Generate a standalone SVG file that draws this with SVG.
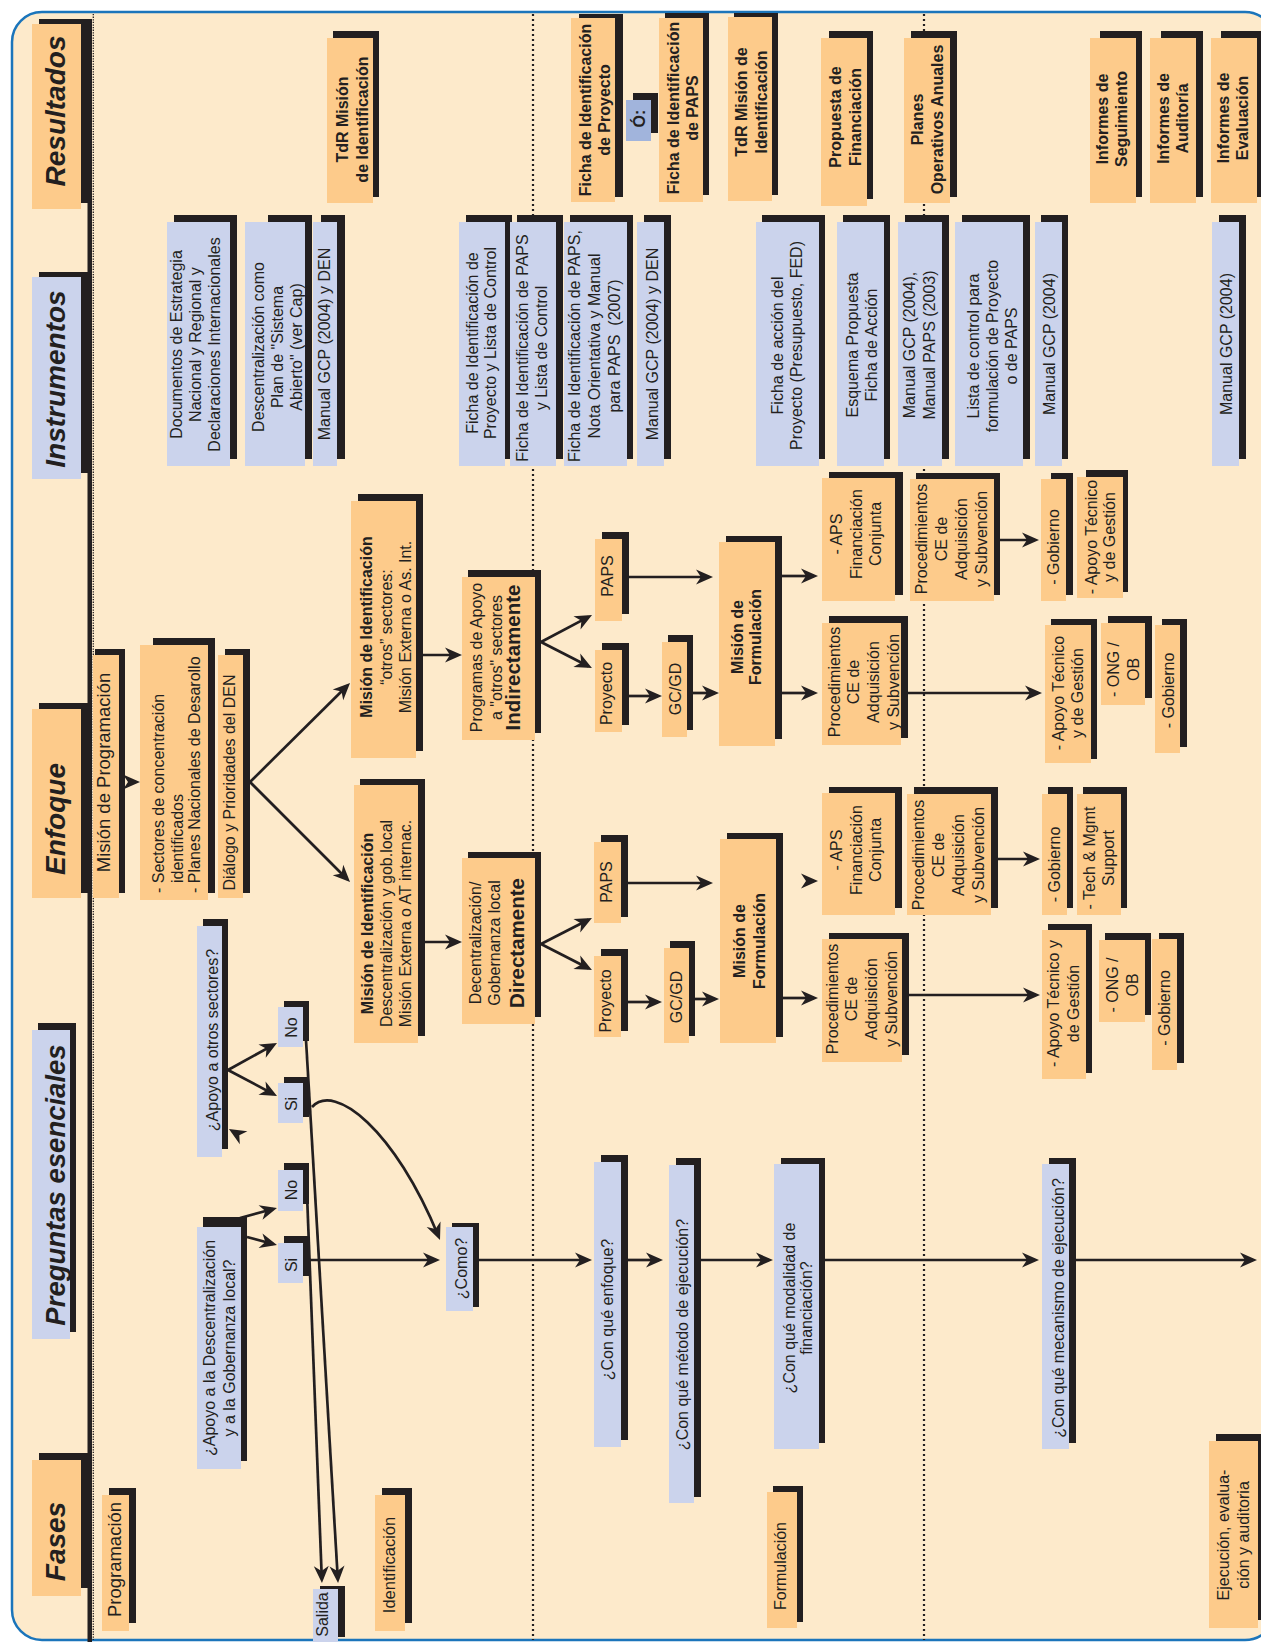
<svg xmlns="http://www.w3.org/2000/svg" width="1261" height="1642" viewBox="0 0 1261 1642">
<defs>
<style>
.sh{fill:#231F20}
.o{fill:#FDCB8B}
.b{fill:#CBD3EC}
.bd{fill:#A1B4DC}
text{font-family:"Liberation Sans",Arial,Helvetica,sans-serif;fill:#231F20}
.t{font-size:16px;text-anchor:middle}
.tl{font-size:16px;text-anchor:start}
.tb{font-size:16px;font-weight:bold;text-anchor:middle}
.hd{font-size:28px;font-weight:bold;font-style:italic;text-anchor:middle}
.bold{font-weight:bold}
.big{font-size:20.5px;font-weight:bold}
.c{fill:none;stroke:#231F20;stroke-width:2.7;marker-end:url(#ah)}
.div{stroke:#231F20;stroke-width:2.2;stroke-dasharray:2 3}
</style>
<marker id="ah" markerUnits="userSpaceOnUse" viewBox="-14 -8 19 16" refX="0" refY="0" markerWidth="19" markerHeight="16" orient="auto">
<path d="M4,0 L-13,-7.5 L-8,0 L-13,7.5 Z" fill="#231F20"/>
</marker>
</defs>

<!-- sheet -->
<rect x="12" y="12" width="1263" height="1628" rx="30" fill="#FDEACB" stroke="#1B75BB" stroke-width="2.5"/>

<!-- phase dividers and row rule -->
<g id="dividers">
<line class="div" x1="533" y1="14" x2="533" y2="1640"/>
<line class="div" x1="924" y1="14" x2="924" y2="1640"/>
<line x1="93.3" y1="14" x2="93.3" y2="1640" stroke="#231F20" stroke-width="1.3" stroke-dasharray="1.3 1.3"/>
<rect x="87.5" y="19" width="4.5" height="1623" fill="#231F20"/>
</g>

<!-- row headers -->
<g id="h-resultados"><rect class="sh" x="39" y="19" width="49" height="184"/><rect class="o" x="32" y="24" width="49" height="185"/><text class="hd" transform="translate(65,111) rotate(-90)">Resultados</text></g>
<g id="h-instrumentos"><rect class="sh" x="39" y="272" width="49" height="201"/><rect class="b" x="32" y="277" width="49" height="202"/><text class="hd" transform="translate(65,379) rotate(-90)">Instrumentos</text></g>
<g id="h-enfoque"><rect class="sh" x="39" y="703" width="49" height="190"/><rect class="o" x="32" y="709" width="49" height="189"/><text class="hd" transform="translate(65,819) rotate(-90)">Enfoque</text></g>
<g id="h-preguntas"><rect class="sh" x="38" y="1023" width="38" height="309"/><rect class="b" x="32" y="1030" width="38" height="309"/><text class="hd" style="font-size:27.5px" transform="translate(65,1185) rotate(-90)">Preguntas esenciales</text></g>
<g id="h-fases"><rect class="sh" x="39" y="1453" width="49" height="135"/><rect class="o" x="32" y="1460" width="49" height="136"/><text class="hd" transform="translate(65,1541.5) rotate(-90)">Fases</text></g>

<!-- Resultados -->
<g id="r-tdr1"><rect class="sh" x="333" y="31" width="46" height="166"/><rect class="o" x="327" y="38" width="46" height="165"/><text class="tb" transform="translate(348,119.5) rotate(-90)"><tspan x="0">TdR Misión</tspan><tspan x="0" dy="20">de Identificación</tspan></text></g>
<g id="r-ficha-proyecto"><rect class="sh" x="579" y="14" width="44" height="183"/><rect class="o" x="571" y="18" width="44" height="184"/><text class="tb" transform="translate(591,110) rotate(-90)"><tspan x="0">Ficha de Identificación</tspan><tspan x="0" dy="18.5">de Proyecto</tspan></text></g>
<g id="r-o"><rect class="sh" x="633" y="93" width="25" height="40"/><rect class="bd" x="626" y="100" width="25" height="41"/><text class="tb" transform="translate(645,118.5) rotate(-90)">Ó:</text></g>
<g id="r-ficha-paps"><rect class="sh" x="665" y="13" width="44" height="182"/><rect class="o" x="659" y="18" width="44" height="184"/><text class="tb" transform="translate(679,108) rotate(-90)"><tspan x="0">Ficha de Identificación</tspan><tspan x="0" dy="19.3">de PAPS</tspan></text></g>
<g id="r-tdr2"><rect class="sh" x="734" y="13" width="44" height="182"/><rect class="o" x="728" y="17" width="44" height="184"/><text class="tb" transform="translate(746.5,102) rotate(-90)"><tspan x="0">TdR Misión de</tspan><tspan x="0" dy="20">Identificación</tspan></text></g>
<g id="r-propuesta"><rect class="sh" x="829" y="31" width="44" height="168"/><rect class="o" x="821" y="38" width="46" height="168"/><text class="tb" transform="translate(841,117) rotate(-90)"><tspan x="0">Propuesta de</tspan><tspan x="0" dy="19.5">Financiación</tspan></text></g>
<g id="r-planes"><rect class="sh" x="911" y="31" width="46" height="166"/><rect class="o" x="904" y="38" width="46" height="165"/><text class="tb" transform="translate(923,119.5) rotate(-90)"><tspan x="0">Planes</tspan><tspan x="0" dy="20">Operativos Anuales</tspan></text></g>
<g id="r-seguimiento"><rect class="sh" x="1100" y="31" width="42" height="166"/><rect class="o" x="1090" y="38" width="46" height="165"/><text class="tb" transform="translate(1108,119) rotate(-90)"><tspan x="0">Informes de</tspan><tspan x="0" dy="18.5">Seguimiento</tspan></text></g>
<g id="r-auditoria"><rect class="sh" x="1161" y="31" width="42" height="166"/><rect class="o" x="1150" y="38" width="46" height="165"/><text class="tb" transform="translate(1169,118.5) rotate(-90)"><tspan x="0">Informes de</tspan><tspan x="0" dy="19">Auditoría</tspan></text></g>
<g id="r-evaluacion"><rect class="sh" x="1221" y="31" width="42" height="166"/><rect class="o" x="1211" y="38" width="46" height="165"/><text class="tb" transform="translate(1229,118) rotate(-90)"><tspan x="0">Informes de</tspan><tspan x="0" dy="19">Evaluación</tspan></text></g>

<!-- Instrumentos -->
<g id="i-documentos"><rect class="sh" x="174" y="215" width="63" height="244"/><rect class="b" x="167" y="222" width="63" height="244"/><text class="t" transform="translate(181.5,344.5) rotate(-90)"><tspan x="0">Documentos de Estrategia</tspan><tspan x="0" dy="19.3">Nacional y Regional y</tspan><tspan x="0" dy="19.3">Declaraciones Internacionales</tspan></text></g>
<g id="i-descentralizacion"><rect class="sh" x="268" y="215" width="44" height="244"/><rect class="b" x="245" y="222" width="60" height="244"/><text class="t" transform="translate(263.5,347) rotate(-90)"><tspan x="0">Descentralización como</tspan><tspan x="0" dy="19">Plan de "Sistema</tspan><tspan x="0" dy="19">Abierto" (ver Cap)</tspan></text></g>
<g id="i-manual1"><rect class="sh" x="321" y="215" width="24" height="244"/><rect class="b" x="313" y="222" width="24" height="244"/><text class="t" transform="translate(330,344) rotate(-90)">Manual GCP (2004) y DEN</text></g>
<g id="i-ficha-proyecto"><rect class="sh" x="466" y="215" width="46" height="244"/><rect class="b" x="459" y="222" width="46" height="244"/><text class="t" transform="translate(478,343) rotate(-90)"><tspan x="0">Ficha de Identificación de</tspan><tspan x="0" dy="18">Proyecto y Lista de Control</tspan></text></g>
<g id="i-ficha-paps"><rect class="sh" x="517" y="215" width="46" height="244"/><rect class="b" x="510" y="222" width="46" height="244"/><text class="t" transform="translate(528,348) rotate(-90)"><tspan x="0">Ficha de Identificación de PAPS</tspan><tspan x="0" dy="18.5">y Lista de Control</tspan></text></g>
<g id="i-ficha-nota"><rect class="sh" x="570" y="215" width="63" height="244"/><rect class="b" x="564" y="222" width="63" height="244"/><text class="t" transform="translate(580,346) rotate(-90)"><tspan x="0">Ficha de Identificación de PAPS,</tspan><tspan x="0" dy="20">Nota Orientativa y Manual</tspan><tspan x="0" dy="20">para PAPS&#160; (2007)</tspan></text></g>
<g id="i-manual2"><rect class="sh" x="644" y="215" width="27" height="244"/><rect class="b" x="637" y="222" width="27" height="244"/><text class="t" transform="translate(658,344) rotate(-90)">Manual GCP (2004) y DEN</text></g>
<g id="i-ficha-accion"><rect class="sh" x="762" y="215" width="63" height="244"/><rect class="b" x="756" y="222" width="63" height="244"/><text class="t" transform="translate(783,345.5) rotate(-90)"><tspan x="0">Ficha de acción del</tspan><tspan x="0" dy="18.5">Proyecto (Presupuesto, FED)</tspan></text></g>
<g id="i-esquema"><rect class="sh" x="843" y="215" width="47" height="244"/><rect class="b" x="837" y="222" width="47" height="244"/><text class="t" transform="translate(858,345) rotate(-90)"><tspan x="0">Esquema Propuesta</tspan><tspan x="0" dy="18.5">Ficha de Acción</tspan></text></g>
<g id="i-manual3"><rect class="sh" x="905" y="215" width="44" height="244"/><rect class="b" x="898" y="222" width="44" height="244"/><text class="t" transform="translate(915,345) rotate(-90)"><tspan x="0">Manual GCP (2004),</tspan><tspan x="0" dy="20">Manual PAPS (2003)</tspan></text></g>
<g id="i-lista"><rect class="sh" x="962" y="215" width="68" height="244"/><rect class="b" x="955" y="222" width="68" height="244"/><text class="t" transform="translate(978.5,346) rotate(-90)"><tspan x="0">Lista de control para</tspan><tspan x="0" dy="19">formulación de Proyecto</tspan><tspan x="0" dy="19">o de PAPS</tspan></text></g>
<g id="i-manual4"><rect class="sh" x="1041" y="215" width="27" height="244"/><rect class="b" x="1035" y="222" width="27" height="244"/><text class="t" transform="translate(1055,344) rotate(-90)">Manual GCP (2004)</text></g>
<g id="i-manual5"><rect class="sh" x="1219" y="215" width="27" height="244"/><rect class="b" x="1212" y="222" width="27" height="244"/><text class="t" transform="translate(1231.5,344) rotate(-90)">Manual GCP (2004)</text></g>

<!-- Enfoque -->
<g id="e-programacion"><rect class="sh" x="95" y="649" width="30" height="244"/><rect class="o" x="93" y="655" width="26" height="243"/><text class="t" style="font-size:18.5px" transform="translate(110,772.5) rotate(-90)">Misión de Programación</text></g>
<g id="e-sectores"><rect class="sh" x="153" y="638" width="62" height="255"/><rect class="o" x="140" y="645" width="68" height="255"/><text class="tl" transform="translate(163.5,893) rotate(-90)"><tspan x="0" y="0">- Sectores de concentración</tspan><tspan x="10" y="19.5">identificados</tspan><tspan x="0" y="36.5">- Planes Nacionales de Desarollo</tspan></text></g>
<g id="e-dialogo"><rect class="sh" x="225" y="649" width="25" height="244"/><rect class="o" x="218" y="655" width="25" height="243"/><text class="t" transform="translate(235,782.5) rotate(-90)">Diálogo y Prioridades del DEN</text></g>
<g id="e-mision-otros"><rect class="sh" x="358" y="494" width="65" height="257"/><rect class="o" x="351" y="501" width="65" height="257"/><text class="t" transform="translate(372,627) rotate(-90)"><tspan x="0" class="bold">Misión de Identificación</tspan><tspan x="0" dy="19.5">“otros” sectores:</tspan><tspan x="0" dy="19.5">Misión Externa o As. Int.</tspan></text></g>
<g id="e-mision-desc"><rect class="sh" x="360" y="779" width="65" height="257"/><rect class="o" x="354" y="785" width="64" height="258"/><text class="t" transform="translate(373,923.5) rotate(-90)"><tspan x="0" class="bold">Misión de Identificación</tspan><tspan x="0" dy="18.5">Descentralización y gob.local</tspan><tspan x="0" dy="19.5">Misión Externa o AT internac.</tspan></text></g>
<g id="e-programas"><rect class="sh" x="468" y="570" width="73" height="163"/><rect class="o" x="462" y="577" width="73" height="163"/><text class="t" transform="translate(481.5,657.5) rotate(-90)"><tspan x="0">Programas de Apoyo</tspan><tspan x="0" dy="20">a "otros" sectores</tspan><tspan x="0" dy="18.5" class="big">Indirectamente</tspan></text></g>
<g id="e-decentralizacion"><rect class="sh" x="468" y="852" width="73" height="165"/><rect class="o" x="462" y="858" width="73" height="166"/><text class="t" transform="translate(480.5,943) rotate(-90)"><tspan x="0">Decentralización/</tspan><tspan x="0" dy="19.5">Gobernanza local</tspan><tspan x="0" dy="24" class="big">Directamente</tspan></text></g>
<g id="e-paps1"><rect class="sh" x="602" y="532" width="27" height="82"/><rect class="o" x="595" y="539" width="27" height="82"/><text class="t" transform="translate(612.5,576) rotate(-90)">PAPS</text></g>
<g id="e-proyecto1"><rect class="sh" x="602" y="643" width="27" height="82"/><rect class="o" x="595" y="650" width="27" height="82"/><text class="t" transform="translate(611.5,693.5) rotate(-90)">Proyecto</text></g>
<g id="e-gcgd1"><rect class="sh" x="668" y="635" width="25" height="95"/><rect class="o" x="662" y="642" width="25" height="95"/><text class="t" transform="translate(681,689) rotate(-90)">GC/GD</text></g>
<g id="e-formulacion1"><rect class="sh" x="726" y="536" width="56" height="203"/><rect class="o" x="719" y="542" width="56" height="204"/><text class="tb" transform="translate(742.5,637) rotate(-90)"><tspan x="0">Misión de</tspan><tspan x="0" dy="18.5">Formulación</tspan></text></g>
<g id="e-aps1"><rect class="sh" x="829" y="472" width="74" height="123"/><rect class="o" x="822" y="478" width="73" height="123"/><text class="t" transform="translate(842,534) rotate(-90)"><tspan x="0">- APS</tspan><tspan x="0" dy="19.5">Financiación</tspan><tspan x="0" dy="19.5">Conjunta</tspan></text></g>
<g id="e-proc1"><rect class="sh" x="916" y="473" width="84" height="122"/><rect class="o" x="910" y="479" width="84" height="122"/><text class="t" transform="translate(926.5,539) rotate(-90)"><tspan x="0">Procedimientos</tspan><tspan x="0" dy="20">CE de</tspan><tspan x="0" dy="20">Adquisición</tspan><tspan x="0" dy="20">y Subvención</tspan></text></g>
<g id="e-gob1"><rect class="sh" x="1051" y="473" width="22" height="122"/><rect class="o" x="1041" y="479" width="25" height="122"/><text class="t" transform="translate(1058.5,547) rotate(-90)">- Gobierno</text></g>
<g id="e-apoyo1"><rect class="sh" x="1086" y="470" width="42" height="122"/><rect class="o" x="1077" y="477" width="46" height="121"/><text class="t" transform="translate(1096.5,537) rotate(-90)"><tspan x="0">- Apoyo Técnico</tspan><tspan x="0" dy="18.5">y de Gestión</tspan></text></g>
<g id="e-proc2"><rect class="sh" x="829" y="616" width="79" height="122"/><rect class="o" x="822" y="623" width="79" height="122"/><text class="t" transform="translate(839.5,682) rotate(-90)"><tspan x="0">Procedimientos</tspan><tspan x="0" dy="19.7">CE de</tspan><tspan x="0" dy="19.7">Adquisición</tspan><tspan x="0" dy="19.7">y Subvención</tspan></text></g>
<g id="e-apoyo2"><rect class="sh" x="1051" y="619" width="46" height="140"/><rect class="o" x="1045" y="625" width="46" height="138"/><text class="t" transform="translate(1063.5,693) rotate(-90)"><tspan x="0">- Apoyo Técnico</tspan><tspan x="0" dy="19">y de Gestión</tspan></text></g>
<g id="e-ong1"><rect class="sh" x="1108" y="616" width="44" height="82"/><rect class="o" x="1101" y="623" width="44" height="82"/><text class="t" transform="translate(1118.5,669.5) rotate(-90)"><tspan x="0">- ONG /</tspan><tspan x="0" dy="20">OB</tspan></text></g>
<g id="e-gob2"><rect class="sh" x="1162" y="619" width="25" height="128"/><rect class="o" x="1155" y="625" width="25" height="128"/><text class="t" transform="translate(1173.5,690.5) rotate(-90)">- Gobierno</text></g>
<g id="e-paps2"><rect class="sh" x="601" y="835" width="27" height="82"/><rect class="o" x="594" y="842" width="27" height="81"/><text class="t" transform="translate(612,882) rotate(-90)">PAPS</text></g>
<g id="e-proyecto2"><rect class="sh" x="601" y="949" width="27" height="82"/><rect class="o" x="594" y="956" width="27" height="81"/><text class="t" transform="translate(611,1001) rotate(-90)">Proyecto</text></g>
<g id="e-gcgd2"><rect class="sh" x="670" y="941" width="25" height="95"/><rect class="o" x="664" y="948" width="25" height="95"/><text class="t" transform="translate(681.5,997) rotate(-90)">GC/GD</text></g>
<g id="e-formulacion2"><rect class="sh" x="727" y="833" width="56" height="204"/><rect class="o" x="720" y="839" width="56" height="204"/><text class="tb" transform="translate(745,941) rotate(-90)"><tspan x="0">Misión de</tspan><tspan x="0" dy="19.5">Formulación</tspan></text></g>
<g id="e-aps2"><rect class="sh" x="829" y="787" width="73" height="121"/><rect class="o" x="822" y="793" width="73" height="122"/><text class="t" transform="translate(842,850) rotate(-90)"><tspan x="0">- APS</tspan><tspan x="0" dy="19.5">Financiación</tspan><tspan x="0" dy="19.5">Conjunta</tspan></text></g>
<g id="e-proc3"><rect class="sh" x="914" y="787" width="84" height="121"/><rect class="o" x="907" y="794" width="84" height="121"/><text class="t" transform="translate(924,855) rotate(-90)"><tspan x="0">Procedimientos</tspan><tspan x="0" dy="20">CE de</tspan><tspan x="0" dy="20">Adquisición</tspan><tspan x="0" dy="20">y Subvención</tspan></text></g>
<g id="e-gob3"><rect class="sh" x="1048" y="787" width="25" height="121"/><rect class="o" x="1042" y="794" width="25" height="121"/><text class="t" transform="translate(1059.5,864.5) rotate(-90)">- Gobierno</text></g>
<g id="e-tech"><rect class="sh" x="1083" y="787" width="44" height="121"/><rect class="o" x="1077" y="794" width="44" height="121"/><text class="t" transform="translate(1095,858) rotate(-90)"><tspan x="0">- Tech &amp; Mgmt</tspan><tspan x="0" dy="18.5">Support</tspan></text></g>
<g id="e-proc4"><rect class="sh" x="829" y="933" width="80" height="122"/><rect class="o" x="822" y="939" width="80" height="123"/><text class="t" transform="translate(837.5,999) rotate(-90)"><tspan x="0">Procedimientos</tspan><tspan x="0" dy="19.7">CE de</tspan><tspan x="0" dy="19.7">Adquisición</tspan><tspan x="0" dy="19.7">y Subvención</tspan></text></g>
<g id="e-apoyo3"><rect class="sh" x="1048" y="924" width="44" height="149"/><rect class="o" x="1042" y="930" width="44" height="149"/><text class="t" transform="translate(1059,1003.5) rotate(-90)"><tspan x="0">- Apoyo Técnico y</tspan><tspan x="0" dy="19.5">de Gestión</tspan></text></g>
<g id="e-ong2"><rect class="sh" x="1105" y="933" width="46" height="82"/><rect class="o" x="1099" y="940" width="46" height="82"/><text class="t" transform="translate(1117.5,985) rotate(-90)"><tspan x="0">- ONG /</tspan><tspan x="0" dy="20">OB</tspan></text></g>
<g id="e-gob4"><rect class="sh" x="1159" y="933" width="25" height="130"/><rect class="o" x="1152" y="939" width="25" height="131"/><text class="t" transform="translate(1170,1008) rotate(-90)">- Gobierno</text></g>

<!-- Preguntas esenciales -->
<g id="p-otros"><rect class="sh" x="203" y="919" width="25" height="230"/><rect class="b" x="197" y="926" width="25" height="231"/><text class="t" transform="translate(217.5,1040) rotate(-90)">¿Apoyo a otros sectores?</text></g>
<g id="p-no1"><rect class="sh" x="284" y="1001" width="25" height="40"/><rect class="b" x="278" y="1007" width="25" height="40"/><text class="t" transform="translate(296.5,1027.5) rotate(-90)">No</text></g>
<g id="p-si1"><rect class="sh" x="284" y="1077" width="25" height="40"/><rect class="b" x="278" y="1083" width="25" height="40"/><text class="t" transform="translate(296.5,1104) rotate(-90)">Si</text></g>
<g id="p-desc"><rect class="sh" x="203" y="1217" width="44" height="244"/><rect class="b" x="197" y="1227" width="44" height="242"/><text class="t" transform="translate(215,1348) rotate(-90)"><tspan x="0">¿Apoyo a la Descentralización</tspan><tspan x="0" dy="19.5">y a la Gobernanza local?</tspan></text></g>
<g id="p-no2"><rect class="sh" x="284" y="1163" width="25" height="41"/><rect class="b" x="278" y="1170" width="25" height="41"/><text class="t" transform="translate(296.5,1190) rotate(-90)">No</text></g>
<g id="p-si2"><rect class="sh" x="284" y="1236" width="25" height="40"/><rect class="b" x="278" y="1243" width="25" height="40"/><text class="t" transform="translate(296.5,1265) rotate(-90)">Si</text></g>
<g id="p-como"><rect class="sh" x="452" y="1223" width="27" height="84"/><rect class="b" x="446" y="1227" width="27" height="84"/><text class="t" transform="translate(466.5,1268.5) rotate(-90)">¿Como?</text></g>
<g id="p-enfoque"><rect class="sh" x="601" y="1155" width="27" height="285"/><rect class="b" x="594" y="1162" width="27" height="285"/><text class="t" transform="translate(613,1309.5) rotate(-90)">¿Con qué enfoque?</text></g>
<g id="p-metodo"><rect class="sh" x="676" y="1158" width="25" height="339"/><rect class="b" x="669" y="1165" width="25" height="338"/><text class="t" transform="translate(688,1334.5) rotate(-90)">¿Con qué método de ejecución?</text></g>
<g id="p-modalidad"><rect class="sh" x="781" y="1158" width="44" height="285"/><rect class="b" x="774" y="1164" width="45" height="285"/><text class="t" transform="translate(794.5,1308) rotate(-90)"><tspan x="0">¿Con qué modalidad de</tspan><tspan x="0" dy="17.5">financiación?</tspan></text></g>
<g id="p-mecanismo"><rect class="sh" x="1049" y="1158" width="27" height="285"/><rect class="b" x="1042" y="1164" width="27" height="285"/><text class="t" transform="translate(1063.5,1308) rotate(-90)">¿Con qué mecanismo de ejecución?</text></g>

<!-- Fases -->
<g id="f-programacion"><rect class="sh" x="109" y="1488" width="27" height="135"/><rect class="o" x="102" y="1495" width="27" height="136"/><text class="t" style="font-size:18.5px" transform="translate(120.5,1559.5) rotate(-90)">Programación</text></g>
<g id="f-salida"><rect class="sh" x="320" y="1586" width="25" height="51"/><rect class="b" x="313" y="1589" width="25" height="55"/><text class="t" transform="translate(327.5,1614.5) rotate(-90)">Salida</text></g>
<g id="f-identificacion"><rect class="sh" x="382" y="1488" width="30" height="135"/><rect class="o" x="375" y="1495" width="30" height="136"/><text class="t" style="font-size:16.5px" transform="translate(395,1565) rotate(-90)">Identificación</text></g>
<g id="f-formulacion"><rect class="sh" x="773" y="1486" width="30" height="136"/><rect class="o" x="767" y="1492" width="30" height="136"/><text class="t" transform="translate(785.5,1566) rotate(-90)">Formulación</text></g>
<g id="f-ejecucion"><rect class="sh" x="1216" y="1434" width="50" height="186"/><rect class="o" x="1209" y="1441" width="49" height="187"/><text class="t" transform="translate(1229,1535) rotate(-90)"><tspan x="0">Ejecución, evalua-</tspan><tspan x="0" dy="20">ción y auditoria</tspan></text></g>

<!-- connectors -->
<g id="connectors">
<line class="c" x1="134" y1="782" x2="136" y2="782"/>
<line class="c" x1="250" y1="782" x2="347.2" y2="685.8"/>
<line class="c" x1="250" y1="782" x2="347.2" y2="879.2"/>
<line class="c" x1="423" y1="655" x2="458" y2="655"/>
<line class="c" x1="425" y1="942" x2="458" y2="942"/>
<line class="c" x1="541" y1="642" x2="588.5" y2="616.9"/>
<line class="c" x1="541" y1="642" x2="588.4" y2="666.2"/>
<line class="c" x1="629" y1="577" x2="709" y2="577"/>
<line class="c" x1="629" y1="696" x2="658" y2="696"/>
<line class="c" x1="693" y1="693" x2="715" y2="693"/>
<line class="c" x1="782" y1="576" x2="814" y2="576"/>
<line class="c" x1="782" y1="693" x2="814" y2="693"/>
<line class="c" x1="1000" y1="540" x2="1035" y2="540"/>
<line class="c" x1="908" y1="693" x2="1038" y2="693"/>
<line class="c" x1="541" y1="944" x2="588.4" y2="919.8"/>
<line class="c" x1="541" y1="944" x2="588.4" y2="968.2"/>
<line class="c" x1="628" y1="883" x2="709" y2="883"/>
<line class="c" x1="628" y1="1002" x2="658" y2="1002"/>
<line class="c" x1="695" y1="999" x2="715" y2="999"/>
<line class="c" x1="812" y1="881" x2="814" y2="881"/>
<line class="c" x1="783" y1="998" x2="814" y2="998"/>
<line class="c" x1="998" y1="859" x2="1036" y2="859"/>
<line class="c" x1="909" y1="995" x2="1036" y2="995"/>
<line class="c" x1="228" y1="1070" x2="273.5" y2="1044.9"/>
<line class="c" x1="228" y1="1070" x2="273.5" y2="1094.1"/>
<line class="c" x1="234.1" y1="1132.1" x2="232.4" y2="1131.1"/>
<path class="c" d="M312,1107 C335,1082 395,1130 438.5,1236.3"/>
<line class="c" x1="306" y1="1040" x2="337.8" y2="1579"/>
<line class="c" x1="306" y1="1168" x2="321.8" y2="1579"/>
<line class="c" x1="240" y1="1218" x2="273.1" y2="1209"/>
<line class="c" x1="247" y1="1237" x2="273.1" y2="1244"/>
<line class="c" x1="309" y1="1260" x2="436" y2="1260"/>
<line class="c" x1="479" y1="1260" x2="588" y2="1260"/>
<line class="c" x1="628" y1="1260" x2="659" y2="1260"/>
<line class="c" x1="701" y1="1260" x2="769" y2="1260"/>
<line class="c" x1="825" y1="1260" x2="1035" y2="1260"/>
<line class="c" x1="1076" y1="1260" x2="1253" y2="1260"/>
</g>
</svg>
